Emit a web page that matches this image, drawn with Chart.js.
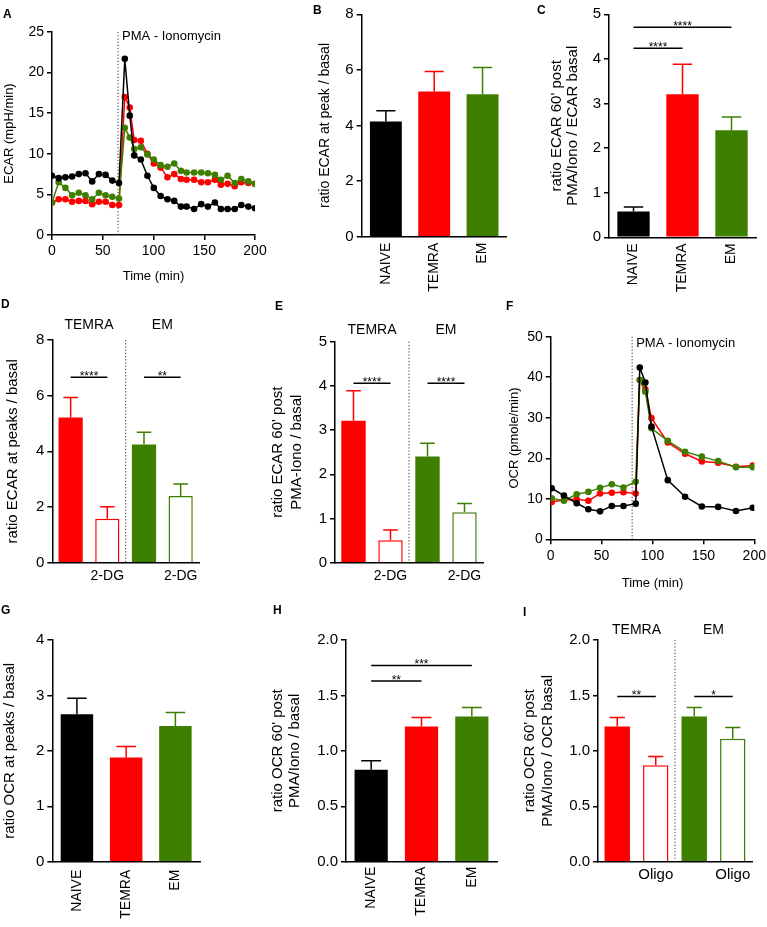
<!DOCTYPE html>
<html>
<head>
<meta charset="utf-8">
<title>ECAR / OCR panels</title>
<script src="https://cdn.jsdelivr.net/npm/chart.js@4.4.1/dist/chart.umd.min.js"></script>
<style>
  html, body { margin: 0; padding: 0; background: #fff; }
  body { position: relative; width: 767px; height: 927px; overflow: hidden; font-family: "Liberation Sans", Arial, sans-serif; }
  canvas { position: absolute; z-index: 1; }
  #chartF { z-index: 3; }
  .tag { position: absolute; z-index: 2; font-weight: bold; font-size: 12px; line-height: 12px; color: #000; }
</style>
</head>
<body>
<canvas id="chartA"></canvas>
<canvas id="chartB"></canvas>
<canvas id="chartC"></canvas>
<canvas id="chartD"></canvas>
<canvas id="chartE"></canvas>
<canvas id="chartF"></canvas>
<canvas id="chartG"></canvas>
<canvas id="chartH"></canvas>
<canvas id="chartI"></canvas>

<div class="tag" style="left:3px;top:8px">A</div>
<div class="tag" style="left:313px;top:4px">B</div>
<div class="tag" style="left:537px;top:4px">C</div>
<div class="tag" style="left:1px;top:298px">D</div>
<div class="tag" style="left:275px;top:300px">E</div>
<div class="tag" style="left:506px;top:300px">F</div>
<div class="tag" style="left:1px;top:604px">G</div>
<div class="tag" style="left:273px;top:604px">H</div>
<div class="tag" style="left:523px;top:606px">I</div>

<script>
// ---- data -------------------------------------------------------------

// A: ECAR time course
const timeA = [0, 6.6, 13.2, 19.8, 26.4, 33, 39.6, 46.2, 52.8, 59.4, 66, 71.7, 76.6, 81, 87.5, 94, 100.3, 107, 113.8, 120.4, 127, 132.6, 140, 147, 153.6, 160.5, 166.4, 173, 180, 186.5, 193.4, 200];
const ecarNaive = [7.3, 7.0, 7.1, 7.2, 7.5, 7.6, 6.6, 7.5, 7.4, 6.7, 6.4, 21.7, 14.7, 9.8, 9.3, 7.3, 5.8, 4.8, 4.4, 4.2, 3.5, 3.5, 3.2, 3.8, 3.5, 4.0, 3.2, 3.2, 3.2, 3.7, 3.5, 3.3];
const ecarTemra = [4.0, 4.4, 4.4, 4.1, 4.2, 4.2, 3.8, 4.1, 4.1, 3.7, 3.7, 17.0, 15.7, 11.7, 11.6, 10.0, 8.8, 8.3, 7.1, 7.5, 6.9, 6.8, 6.8, 6.5, 6.5, 6.8, 6.2, 6.3, 6.0, 6.5, 6.4, 6.3];
const ecarEm = [4.0, 6.5, 5.8, 4.9, 5.2, 4.9, 4.4, 5.2, 4.9, 4.7, 4.5, 13.2, 12.0, 10.6, 10.8, 9.9, 9.3, 8.6, 8.4, 8.8, 7.9, 7.7, 7.7, 7.7, 7.6, 7.4, 6.8, 7.3, 6.4, 6.9, 6.6, 6.3];
const ticksA = ['0', '5', '10', '15', '20', '25'];

// F: OCR time course
const timeF = [1, 13, 25.5, 37, 48.5, 60, 71.5, 83.5, 87.5, 93, 99, 115, 132, 148.5, 164.5, 182, 198.5];
const ocrNaive = [12.6, 10.8, 8.9, 7.4, 6.9, 8.2, 8.2, 8.8, 42.4, 38.7, 27.8, 14.6, 10.5, 8.1, 8.0, 7.0, 7.8];
const ocrTemra = [9.2, 9.7, 9.9, 9.5, 11.3, 11.5, 11.6, 11.3, 39.3, 37.0, 29.9, 23.9, 21.1, 19.2, 18.9, 17.9, 18.2];
const ocrEm = [10.1, 9.5, 11.1, 11.7, 12.7, 13.6, 12.8, 14.2, 39.3, 36.4, 27.4, 24.3, 21.6, 20.4, 19.3, 17.8, 17.8];
const ticksF = ['0', '10', '20', '30', '40', '50'];
const ticksTime = ['0', '50', '100', '150', '200'];

// bar panels
const groups3 = ['NAIVE', 'TEMRA', 'EM'];
const treatDG = ['', '2-DG', '', '2-DG'];
const treatOligo = ['', 'Oligo', '', 'Oligo'];
const pairGroups = ['TEMRA', 'EM'];

const peakEcar = [4.14, 5.22, 5.12];          // B
const peakEcarSem = [0.39, 0.72, 0.97];
const ticksB = ['0', '2', '4', '6', '8'];

const post60Ecar = [0.58, 3.21, 2.40];        // C
const post60EcarSem = [0.10, 0.67, 0.30];
const sigC = [[0, 1, 4.24, '****'], [0, 2, 4.71, '****']];
const ticksC = ['0', '1', '2', '3', '4', '5'];

const peakEcarDG = [5.22, 1.58, 4.25, 2.40];  // D
const peakEcarDGSem = [0.71, 0.43, 0.44, 0.43];
const sigD = [[0, 1, 6.66, '****'], [2, 3, 6.66, '**']];
const ticksD = ['0', '2', '4', '6', '8'];

const post60EcarDG = [3.21, 0.51, 2.40, 1.14];  // E
const post60EcarDGSem = [0.68, 0.23, 0.30, 0.20];
const sigE = [[0, 1, 4.06, '****'], [2, 3, 4.06, '****']];
const ticksE = ['0', '1', '2', '3', '4', '5'];

const peakOcr = [2.66, 1.88, 2.45];           // G
const peakOcrSem = [0.29, 0.20, 0.24];
const ticksG = ['0', '1', '2', '3', '4'];

const post60Ocr = [0.83, 1.22, 1.31];         // H
const post60OcrSem = [0.08, 0.08, 0.08];
const sigH = [[0, 1, 1.63, '**'], [0, 2, 1.77, '***']];
const ticksH = ['0.0', '0.5', '1.0', '1.5', '2.0'];

const post60OcrOligo = [1.22, 0.87, 1.31, 1.11];  // I
const post60OcrOligoSem = [0.08, 0.08, 0.08, 0.10];
const sigI = [[0, 1, 1.49, '**'], [2, 3, 1.49, '*']];
const ticksI = ['0.0', '0.5', '1.0', '1.5', '2.0'];

// ---- style ------------------------------------------------------------
const FONT = '"Liberation Sans", Arial, sans-serif';
Chart.defaults.font.family = FONT;
Chart.defaults.color = '#000';

const BLACK = '#000000', RED = '#ff0000', GREEN = '#3f7f00', WHITE = '#ffffff';
const fill3 = [BLACK, RED, GREEN];
const fill4 = [RED, WHITE, GREEN, WHITE];
const edge4 = [RED, RED, GREEN, GREEN];

const axisLine = { color: '#000', width: 1.5 };
const tickMarks = { drawOnChartArea: false, drawTicks: true, tickLength: 5, color: '#000', lineWidth: 1.5 };

// box = canvas [left, top, width, height], plot = chart area [left, top, right, bottom]
function frame(id, box, plot) {
  const c = document.getElementById(id);
  c.width = box[2];
  c.height = box[3];
  Object.assign(c.style, { left: box[0] + 'px', top: box[1] + 'px', width: box[2] + 'px', height: box[3] + 'px' });
  return {
    canvas: c,
    padding: { left: 0, top: plot[1] - box[1], right: box[0] + box[2] - plot[2], bottom: 0 },
    yw: plot[0] - box[0],
    xh: box[1] + box[3] - plot[3]
  };
}

// ticks come straight from the label list
function fixedTicks(labels) {
  return s => { s.ticks = labels.map(l => ({ value: Number(l), label: l })); };
}

function yAxis(f, labels, title, t) {
  return {
    min: 0,
    max: Number(labels[labels.length - 1]),
    afterBuildTicks: fixedTicks(labels),
    ticks: { autoSkip: false, z: 2, font: { size: t.tick }, padding: 3, callback: (v, i) => labels[i] },
    grid: tickMarks,
    border: axisLine,
    title: { display: true, text: title, font: { size: t.size, lineHeight: t.lh }, padding: { top: t.pad, bottom: 0 } },
    afterFit: s => { s.width = f.yw; }
  };
}

// error bars, significance bars, group split
function barMarks(o) {
  return {
    id: 'barMarks',
    afterDatasetsDraw(chart) {
      const ctx = chart.ctx, ys = chart.scales.y, area = chart.chartArea;
      const bars = chart.getDatasetMeta(0).data;
      ctx.save();
      ctx.lineWidth = 1.5;
      bars.forEach((b, i) => {
        const top = ys.getPixelForValue(o.values[i]);
        const end = ys.getPixelForValue(o.values[i] + o.sem[i]);
        const half = b.width * 0.3;
        ctx.strokeStyle = o.edge[i];
        ctx.beginPath();
        ctx.moveTo(b.x, top); ctx.lineTo(b.x, end);
        ctx.moveTo(b.x - half, end); ctx.lineTo(b.x + half, end);
        ctx.stroke();
      });

      if (o.groups) {
        const sx = (bars[1].x + bars[2].x) / 2;
        ctx.save();
        ctx.setLineDash([1.2, 2]);
        ctx.lineWidth = 1;
        ctx.strokeStyle = '#333';
        ctx.beginPath(); ctx.moveTo(sx, area.top); ctx.lineTo(sx, area.bottom); ctx.stroke();
        ctx.restore();
        ctx.font = '14px ' + FONT;
        ctx.fillStyle = '#000';
        ctx.textAlign = 'center';
        ctx.textBaseline = 'middle';
        o.groups.forEach((g, k) => {
          ctx.fillText(g, (bars[2 * k].x + bars[2 * k + 1].x) / 2, area.top - o.groupDy);
        });
      }

      ctx.strokeStyle = '#000';
      ctx.fillStyle = '#000';
      ctx.font = '12px ' + FONT;
      ctx.textAlign = 'center';
      ctx.textBaseline = 'alphabetic';
      (o.sig || []).forEach(([a, b, v, stars]) => {
        const y = ys.getPixelForValue(v);
        ctx.beginPath(); ctx.moveTo(bars[a].x, y); ctx.lineTo(bars[b].x, y); ctx.stroke();
        ctx.fillText(stars, (bars[a].x + bars[b].x) / 2, y + 2.5);
      });
      ctx.restore();
    }
  };
}

function barChart(id, box, plot, o) {
  const f = frame(id, box, plot);
  new Chart(f.canvas, {
    type: 'bar',
    data: {
      labels: o.labels,
      datasets: [{
        data: o.values,
        backgroundColor: o.fill,
        borderColor: o.edge,
        borderWidth: o.edge.map((c, i) => o.fill[i] === WHITE ? 1.5 : 0),
        barPercentage: 0.66,
        categoryPercentage: 1
      }]
    },
    options: {
      responsive: false,
      animation: false,
      layout: { padding: f.padding },
      plugins: { legend: { display: false }, tooltip: { enabled: false } },
      scales: {
        x: {
          grid: { display: false, drawTicks: false },
          border: axisLine,
          ticks: { autoSkip: false, maxRotation: o.rot, minRotation: o.rot, padding: o.xPad, font: { size: o.xFont } },
          afterFit: s => { s.height = f.xh; }
        },
        y: yAxis(f, o.ticks, o.title, o.yt)
      }
    },
    plugins: [barMarks(o)]
  });
}

// dotted injection line with its label
function injection(o) {
  return {
    id: 'injection',
    beforeDatasetsDraw(chart) {
      const ctx = chart.ctx, area = chart.chartArea;
      const x = chart.scales.x.getPixelForValue(o.at);
      ctx.save();
      ctx.setLineDash([1.2, 2]);
      ctx.lineWidth = 1;
      ctx.strokeStyle = '#333';
      ctx.beginPath(); ctx.moveTo(x, area.top); ctx.lineTo(x, area.bottom); ctx.stroke();
      ctx.setLineDash([]);
      ctx.font = '13px ' + FONT;
      ctx.fillStyle = '#000';
      ctx.textAlign = 'left';
      ctx.textBaseline = 'middle';
      ctx.fillText('PMA - Ionomycin', x + 4, area.top + o.dy);
      ctx.restore();
    }
  };
}

function lineChart(id, box, plot, o) {
  const f = frame(id, box, plot);
  const series = (vals, col) => ({
    data: o.time.map((t, i) => ({ x: t, y: vals[i] })),
    borderColor: col,
    backgroundColor: col,
    borderWidth: 1.5,
    pointRadius: 3.3,
    pointBorderWidth: 0,
    tension: 0
  });
  new Chart(f.canvas, {
    type: 'line',
    data: { datasets: [series(o.naive, BLACK), series(o.em, GREEN), series(o.temra, RED)] },
    options: {
      responsive: false,
      animation: false,
      layout: { padding: f.padding },
      plugins: { legend: { display: false }, tooltip: { enabled: false } },
      scales: {
        x: {
          type: 'linear', min: 0, max: 200,
          afterBuildTicks: fixedTicks(ticksTime),
          ticks: { autoSkip: false, font: { size: 14 }, padding: 3, callback: (v, i) => ticksTime[i] },
          grid: tickMarks,
          border: axisLine,
          title: { display: true, text: 'Time (min)', font: { size: 13 }, padding: { top: 0, bottom: o.xtPad } },
          afterFit: s => { s.height = f.xh; }
        },
        y: yAxis(f, o.ticks, o.title, { tick: 14, size: 13, lh: 1.2, pad: 1.2 })
      }
    },
    plugins: [injection(o)]
  });
}

// ---- panels -------------------------------------------------------------
lineChart('chartA', [0, 20, 272, 272], [52, 32, 255, 235], {
  time: timeA, naive: ecarNaive, temra: ecarTemra, em: ecarEm,
  ticks: ticksA, title: 'ECAR (mpH/min)', at: 65, dy: 4, xtPad: 8
});

barChart('chartB', [315, 0, 200, 300], [361.7, 14.3, 506.7, 236.7], {
  labels: groups3, values: peakEcar, sem: peakEcarSem, fill: fill3, edge: fill3,
  rot: 90, xPad: 6, xFont: 14, ticks: ticksB,
  title: 'ratio ECAR at peak / basal', yt: { tick: 15, size: 14, lh: 1.2, pad: 1.6 }
});

barChart('chartC', [540, 0, 227, 300], [609, 14.3, 756, 237.3], {
  labels: groups3, values: post60Ecar, sem: post60EcarSem, fill: fill3, edge: fill3, sig: sigC,
  rot: 90, xPad: 6, xFont: 14, ticks: ticksC,
  title: ["ratio ECAR 60' post", 'PMA/Iono / ECAR basal'], yt: { tick: 15, size: 15, lh: 1.11, pad: 8.3 }
});

barChart('chartD', [0, 300, 210, 300], [52.3, 340, 199, 562.7], {
  labels: treatDG, values: peakEcarDG, sem: peakEcarDGSem, fill: fill4, edge: edge4, sig: sigD,
  groups: pairGroups, groupDy: 15,
  rot: 0, xPad: 5, xFont: 14, ticks: ticksD,
  title: 'ratio ECAR at peaks / basal', yt: { tick: 15, size: 15, lh: 1.2, pad: 4 }
});

barChart('chartE', [265, 300, 225, 300], [335, 341.7, 483, 562.7], {
  labels: treatDG, values: post60EcarDG, sem: post60EcarDGSem, fill: fill4, edge: edge4, sig: sigE,
  groups: pairGroups, groupDy: 12,
  rot: 0, xPad: 5, xFont: 14, ticks: ticksE,
  title: ["ratio ECAR 60' post", 'PMA-Iono / basal'], yt: { tick: 15, size: 15, lh: 1.22, pad: 4.2 }
});

lineChart('chartF', [505, 300, 266, 300], [550.7, 336.7, 754.3, 539.3], {
  time: timeF, naive: ocrNaive, temra: ocrTemra, em: ocrEm,
  ticks: ticksF, title: 'OCR (pmole/min)', at: 80, dy: 7, xtPad: 9
});

barChart('chartG', [0, 615, 210, 312], [52.3, 640, 200, 861.7], {
  labels: groups3, values: peakOcr, sem: peakOcrSem, fill: fill3, edge: fill3,
  rot: 90, xPad: 8, xFont: 14, ticks: ticksG,
  title: 'ratio OCR at peaks / basal', yt: { tick: 15, size: 15, lh: 1.2, pad: 1 }
});

barChart('chartH', [265, 615, 240, 312], [346, 640, 497, 861.7], {
  labels: groups3, values: post60Ocr, sem: post60OcrSem, fill: fill3, edge: fill3, sig: sigH,
  rot: 90, xPad: 5, xFont: 14, ticks: ticksH,
  title: ["ratio OCR 60' post", 'PMA/Iono / basal'], yt: { tick: 15, size: 15, lh: 1.13, pad: 4.8 }
});

barChart('chartI', [515, 615, 252, 312], [598, 640, 752, 861.7], {
  labels: treatOligo, values: post60OcrOligo, sem: post60OcrOligoSem, fill: fill4, edge: edge4, sig: sigI,
  groups: pairGroups, groupDy: 10,
  rot: 0, xPad: 4, xFont: 15, ticks: ticksI,
  title: ["ratio OCR 60' post", 'PMA/Iono / OCR basal'], yt: { tick: 15, size: 15, lh: 1.22, pad: 5.8 }
});
</script>
</body>
</html>
